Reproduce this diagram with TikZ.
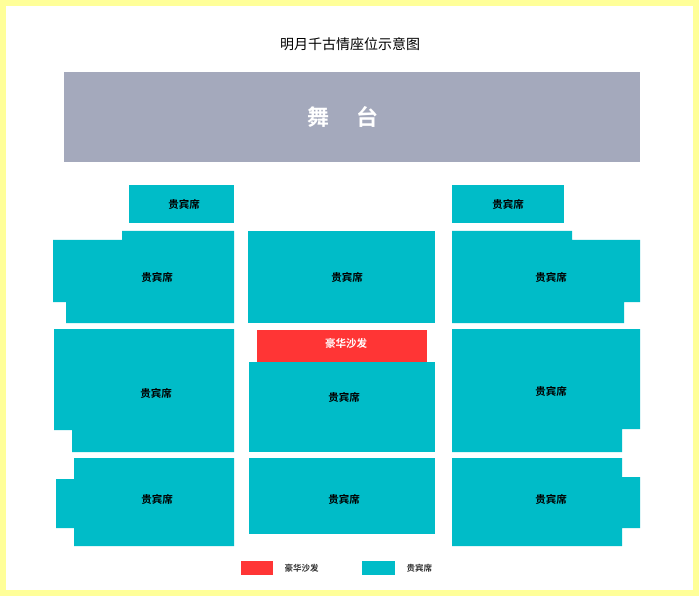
\documentclass[tikz,border=0pt]{standalone}
\usepackage{fontspec}
\newfontfamily\cjk{Noto Sans CJK SC}
\newfontfamily\cjkb{Noto Sans CJK SC Bold}
\definecolor{teal1}{HTML}{00BCC8}
\definecolor{red1}{HTML}{FF3535}
\definecolor{stage}{HTML}{A4A9BC}
\definecolor{frame}{HTML}{FFFF99}
\begin{document}
\begin{tikzpicture}[x=1pt,y=-1pt,
  seat/.style={fill=teal1},
  lab/.style={font=\cjkb\fontsize{10.5}{12}\selectfont,text=black},
  legtext/.style={font=\cjkb\fontsize{8.5}{10}\selectfont,text=black!80}]
\useasboundingbox (0,0) rectangle (699,596);
\fill[white] (0,0) rectangle (699,596);
\draw[frame,line width=6pt] (3,3) rectangle (696,593);
\node[font=\cjk\fontsize{14}{16}\selectfont] (title) at (350,44) {明月千古情座位示意图};
\fill[stage] (64,72) rectangle (640,162);
\node[font=\cjkb\fontsize{22}{24}\selectfont,text=white] (stg) at (343,117) {舞\hspace{1.2em}台};
% top small
\fill[seat] (129,185) rectangle (234,223);
\node[lab] (s1) at (184,204) {贵宾席};
\fill[seat] (452,185) rectangle (564,223);
\node[lab] (s2) at (508,204) {贵宾席};
% row 1
\fill[seat] (122,231) -- (234,231) -- (234,323) -- (66,323) -- (66,302) -- (53,302) -- (53,240) -- (122,240) -- cycle;
\node[lab] (r1l) at (157,277) {贵宾席};
\fill[seat] (248,231) rectangle (435,323);
\node[lab] (r1m) at (347,277) {贵宾席};
\fill[seat] (452,231) -- (572,231) -- (572,240) -- (640,240) -- (640,302) -- (624,302) -- (624,323) -- (452,323) -- cycle;
\node[lab] (r1r) at (551,277) {贵宾席};
% row 2
\fill[seat] (54,329) -- (234,329) -- (234,452) -- (72,452) -- (72,430) -- (54,430) -- cycle;
\node[lab] (r2l) at (156,393) {贵宾席};
\fill[red1] (257,330) rectangle (427,362);
\node[font=\cjkb\fontsize{10.5}{12}\selectfont,text=white] (sofa) at (346,343) {豪华沙发};
\fill[seat] (249,362) rectangle (435,452);
\node[lab] (r2m) at (344,397) {贵宾席};
\fill[seat] (452,329) -- (640,329) -- (640,429) -- (622,429) -- (622,452) -- (452,452) -- cycle;
\node[lab] (r2r) at (551,391) {贵宾席};
% row 3
\fill[seat] (74,458) -- (234,458) -- (234,546) -- (74,546) -- (74,528) -- (56,528) -- (56,479) -- (74,479) -- cycle;
\node[lab] (r3l) at (157,499) {贵宾席};
\fill[seat] (249,458) rectangle (435,534);
\node[lab] (r3m) at (344,499) {贵宾席};
\fill[seat] (452,458) -- (622,458) -- (622,477) -- (640,477) -- (640,528) -- (622,528) -- (622,546) -- (452,546) -- cycle;
\node[lab] (r3r) at (551,499) {贵宾席};
% legend
\fill[red1] (241,561) rectangle (273,575);
\node[legtext,anchor=west] (lg1) at (281,568) {豪华沙发};
\fill[teal1] (362,561) rectangle (395,575);
\node[legtext,anchor=west] (lg2) at (403,568) {贵宾席};
\end{tikzpicture}
\end{document}
